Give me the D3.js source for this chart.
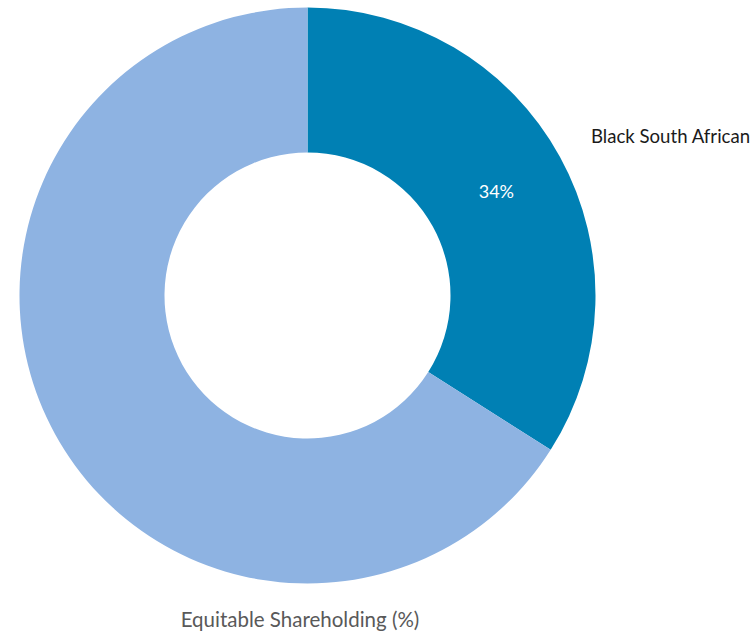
<!DOCTYPE html>
<html>
<head>
<meta charset="utf-8">
<script src="https://cdn.jsdelivr.net/npm/d3@7"></script>
<style>
  html, body { margin: 0; padding: 0; background: #fff; }
  svg text { font-family: Lato, "Open Sans", sans-serif; }
</style>
</head>
<body>
<svg id="chart" width="755" height="633"></svg>
<script>
// Shareholding breakdown
const categories = ["Black South African", "Other"];
const values = [34, 66];
const colors = ["#0080B4", "#8EB3E2"];
const valueLabels = ["34%", ""];
const title = "Equitable Shareholding (%)";

const svg = d3.select("#chart");
const cx = 307.5, cy = 295.5;
const outerR = 288, innerR = 143;

const pie = d3.pie().sort(null).value(d => d.value);
const arcs = pie(categories.map((c, i) => ({ name: c, value: values[i], color: colors[i], label: valueLabels[i] })));
const arc = d3.arc().innerRadius(innerR).outerRadius(outerR);

const g = svg.append("g").attr("transform", `translate(${cx},${cy})`);

g.selectAll("path")
  .data(arcs)
  .join("path")
  .attr("d", arc)
  .attr("fill", d => d.data.color);

// Value label at the slice centroid
g.selectAll("text.value")
  .data(arcs.filter(d => d.data.label))
  .join("text")
  .attr("class", "value")
  .attr("x", d => arc.centroid(d)[0])
  .attr("y", d => arc.centroid(d)[1])
  .attr("dy", "0.35em")
  .attr("text-anchor", "middle")
  .attr("fill", "#fff")
  .attr("font-size", 18)
  .text(d => d.data.label);

// Category label to the right of the slice
svg.append("text")
  .attr("x", 591)
  .attr("y", 143)
  .attr("fill", "#1a1a1a")
  .attr("font-size", 18.6)
  .text(categories[0]);

// Title under the ring
svg.append("text")
  .attr("x", 300)
  .attr("y", 627)
  .attr("text-anchor", "middle")
  .attr("fill", "#595959")
  .attr("font-size", 20.5)
  .text(title);
</script>
</body>
</html>
